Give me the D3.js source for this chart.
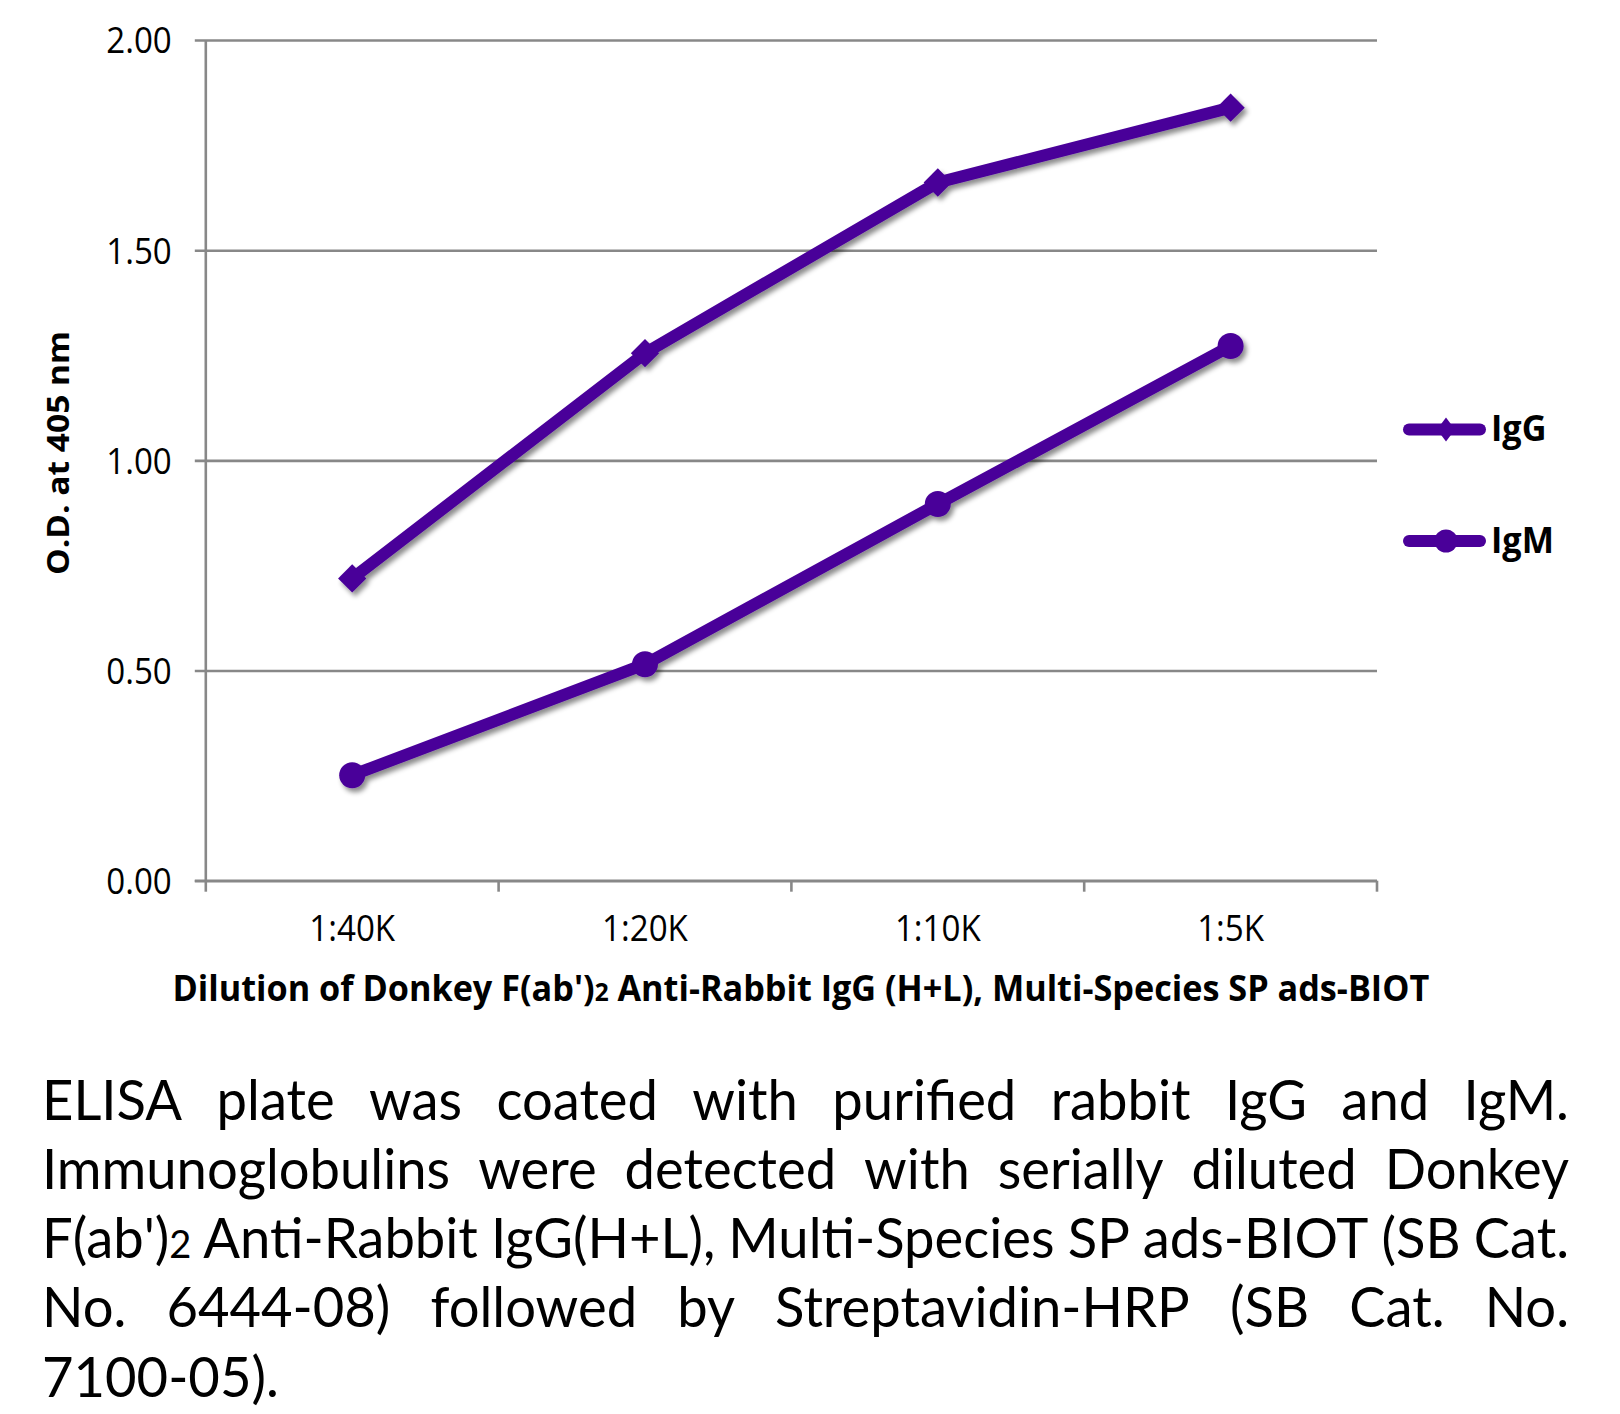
<!DOCTYPE html>
<html><head><meta charset="utf-8">
<script src="https://cdn.jsdelivr.net/npm/d3@7"></script>
<style>body{margin:0;background:#fff}svg{display:block}</style>
</head><body>
<svg id="c" width="1620" height="1414"></svg>
<script>
// ---- data ----
const categories = ["1:40K", "1:20K", "1:10K", "1:5K"];
const igG = [0.719, 1.255, 1.661, 1.839];
const igM = [0.251, 0.515, 0.896, 1.272];
const seriesNames = ["IgG", "IgM"];
const yTicks = [0, 0.5, 1.0, 1.5, 2.0];
const yTitle = "O.D. at 405 nm";
const xTitle = "Dilution of Donkey F(ab')2 Anti-Rabbit IgG (H+L), Multi-Species SP ads-BIOT";
const captionLines = [
  "ELISA plate was coated with purified rabbit IgG and IgM.",
  "Immunoglobulins were detected with serially diluted Donkey",
  "F(ab')2 Anti-Rabbit IgG(H+L), Multi-Species SP ads-BIOT (SB Cat.",
  "No. 6444-08) followed by Streptavidin-HRP (SB Cat. No.",
  "7100-05)."
];

(function () {
const svg = d3.select("#c");
const FONT = "'Open Sans', 'Noto Sans', sans-serif";
const CAPFONT = "Lato, 'Open Sans', sans-serif";
const PURPLE = "#4a0099";
const GRID = "#888888";
const pL = 205.8, pR = 1377, pT = 40, pB = 880.7;

const x = d3.scaleBand().domain(categories).range([pL, pR]).paddingInner(0).paddingOuter(0);
const y = d3.scaleLinear().domain([0, 2]).range([pB, pT]);
const cx = c => x(c) + x.bandwidth() / 2;

const defs = svg.append("defs");
defs.append("filter").attr("id", "sh").attr("x", "-10%").attr("y", "-10%").attr("width", "120%").attr("height", "130%")
  .append("feDropShadow").attr("dx", 3).attr("dy", 4).attr("stdDeviation", 2.5)
  .attr("flood-color", "#000").attr("flood-opacity", 0.45);

function squeeze(sel, k) {
  sel.each(function () {
    const w = this.getComputedTextLength();
    this.setAttribute("textLength", w * k);
    this.setAttribute("lengthAdjust", "spacingAndGlyphs");
  });
}
// builds tspans; "')2" gets a small "2"
function rich(textSel, str, subSize) {
  const parts = str.split("')2");
  parts.forEach((p, i) => {
    if (i > 0) {
      textSel.append("tspan").text("')");
      textSel.append("tspan").attr("font-size", subSize).text("2");
    }
    if (p.length) textSel.append("tspan").text(p);
  });
}

// ---- gridlines (y) ----
const yAxis = d3.axisLeft(y).tickValues(yTicks).tickSize(-(pR - pL)).tickSizeOuter(0).tickFormat(d3.format(".2f"));
const gy = svg.append("g").attr("transform", `translate(${pL},0)`).call(yAxis);
gy.select(".domain").remove();
gy.selectAll(".tick line").attr("stroke", GRID).attr("stroke-width", 2.6).attr("x1", -11);
gy.selectAll(".tick text").attr("x", -34).attr("dy", "0.36em")
  .attr("font-family", FONT).attr("font-size", 36).attr("fill", "#000");
squeeze(gy.selectAll(".tick text"), 0.92);

svg.append("line").attr("x1", pL).attr("x2", pL).attr("y1", pT).attr("y2", pB)
  .attr("stroke", GRID).attr("stroke-width", 2.6);

// ---- x axis ----
const xAxis = d3.axisBottom(x).tickSize(0).tickSizeOuter(0);
const gx = svg.append("g").attr("transform", `translate(0,${pB})`).call(xAxis);
gx.select(".domain").attr("stroke", GRID).attr("stroke-width", 2.6).attr("d", `M${pL - 11},0H${pR}`);
gx.selectAll(".tick text").attr("y", 60).attr("dy", 0)
  .attr("font-family", FONT).attr("font-size", 36).attr("fill", "#000");
squeeze(gx.selectAll(".tick text"), 0.92);
const bounds = categories.map(c => x(c)).concat([pR]);
svg.append("g").selectAll("line").data(bounds).join("line")
  .attr("x1", d => d).attr("x2", d => d).attr("y1", pB).attr("y2", pB + 11)
  .attr("stroke", GRID).attr("stroke-width", 2.6);

// ---- series ----
const line = d3.line().x((d, i) => cx(categories[i])).y(d => y(d));
const series = [
  { name: seriesNames[0], values: igG, marker: "diamond" },
  { name: seriesNames[1], values: igM, marker: "circle" }
];
series.forEach(s => {
  const g = svg.append("g").attr("filter", "url(#sh)");
  g.append("path").datum(s.values).attr("d", line).attr("fill", "none")
    .attr("stroke", PURPLE).attr("stroke-width", 12).attr("stroke-linejoin", "round");
  if (s.marker === "diamond") {
    g.selectAll("path.m").data(s.values).join("path").attr("class", "m")
      .attr("d", d3.symbol().type(d3.symbolSquare).size(400)())
      .attr("transform", (d, i) => `translate(${cx(categories[i])},${y(d)}) rotate(45)`)
      .attr("fill", PURPLE);
  } else {
    g.selectAll("circle").data(s.values).join("circle")
      .attr("cx", (d, i) => cx(categories[i])).attr("cy", d => y(d)).attr("r", 13)
      .attr("fill", PURPLE);
  }
});

// ---- legend ----
const legY = [429.5, 541];
series.forEach((s, i) => {
  const g = svg.append("g").attr("transform", `translate(0,${legY[i]})`);
  g.append("line").attr("x1", 1409).attr("x2", 1480).attr("y1", 0).attr("y2", 0)
    .attr("stroke", PURPLE).attr("stroke-width", 12).attr("stroke-linecap", "round");
  if (s.marker === "diamond") {
    g.append("path").attr("d", "M0,-12L9,0L0,12L-9,0Z").attr("transform", "translate(1446,0)").attr("fill", PURPLE);
  } else {
    g.append("circle").attr("cx", 1446).attr("cy", 0).attr("r", 11.5).attr("fill", PURPLE);
  }
  const t = g.append("text").attr("x", 1491).attr("y", 11.5)
    .attr("font-family", FONT).attr("font-weight", 700).attr("font-size", 36).text(s.name);
  squeeze(t, 0.95);
});

// ---- axis titles ----
const xtTarget = 1257;
const xtg = svg.append("g");
const xt = xtg.append("text").attr("x", 0).attr("y", 0)
  .attr("font-family", FONT).attr("font-weight", 700).attr("font-size", 35);
rich(xt, xTitle, 25);
const xtw = xt.node().getComputedTextLength();
xtg.attr("transform", `translate(${801 - xtTarget / 2},1001) scale(${xtTarget / xtw},1)`);

svg.append("text").attr("transform", "translate(69,453) rotate(-90)").attr("text-anchor", "middle")
  .attr("font-family", FONT).attr("font-weight", 700).attr("font-size", 30)
  .attr("textLength", 244).attr("lengthAdjust", "spacingAndGlyphs").text(yTitle);

// ---- caption (justified) ----
const capL = 42, capR = 1569, capY0 = 1119.5, capDY = 69.3, capFS = 56;
const capG = svg.append("g").attr("font-family", CAPFONT).attr("font-size", capFS).attr("fill", "#000");
const lineWords = captionLines.map((ln, li) => {
  return ln.split(" ").map(w => {
    const g = capG.append("g");
    const t = g.append("text").attr("x", 0).attr("y", 0);
    rich(t, w, capFS * 0.7);
    return { g, w: t.node().getComputedTextLength() };
  });
});
const W = capR - capL, minGap = 13;
let k = 1;
lineWords.forEach((ws, li) => {
  if (li === lineWords.length - 1) return;
  const sum = d3.sum(ws, d => d.w);
  k = Math.min(k, (W - (ws.length - 1) * minGap) / sum);
});
lineWords.forEach((ws, li) => {
  const last = li === lineWords.length - 1;
  const sum = d3.sum(ws, d => d.w * k);
  const gap = last ? minGap : (W - sum) / (ws.length - 1);
  let xx = capL;
  ws.forEach(d => {
    d.g.attr("transform", `translate(${xx},${capY0 + li * capDY}) scale(${k},1)`);
    xx += d.w * k + gap;
  });
});
})();
</script>
</body></html>
